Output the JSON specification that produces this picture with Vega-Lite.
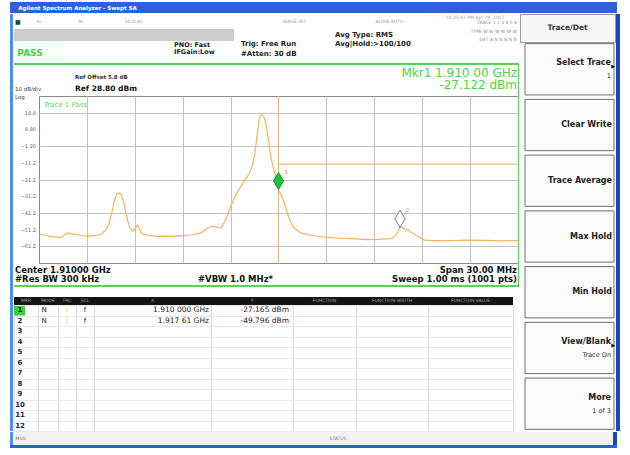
{
"$schema": "https://vega.github.io/schema/vega-lite/v6.json",
"background": "#ffffff",
"padding": {"left": 10, "top": 2, "right": 0, "bottom": 0},
"spacing": 0,
"config": {"view": {"stroke": null}, "concat": {"spacing": 0}, "text": {"font": "DejaVu Sans"}, "axis": {"labelFont": "DejaVu Sans"}},
"datasets": {
"trace": [
{"f":1.89500,"amp":-54.6},{"f":1.89520,"amp":-54.0},{"f":1.89545,"amp":-54.9},{"f":1.89575,"amp":-55.2},{"f":1.89605,"amp":-55.5},{"f":1.89638,"amp":-55.8},{"f":1.89660,"amp":-54.5},{"f":1.89680,"amp":-53.2},{"f":1.89710,"amp":-53.9},{"f":1.89742,"amp":-54.2},{"f":1.89775,"amp":-54.9},{"f":1.89805,"amp":-55.2},{"f":1.89835,"amp":-54.8},{"f":1.89868,"amp":-54.6},{"f":1.89890,"amp":-53.8},{"f":1.89909,"amp":-52.2},{"f":1.89925,"amp":-50.4},{"f":1.89940,"amp":-47.2},{"f":1.89955,"amp":-41.5},{"f":1.89972,"amp":-34.2},{"f":1.89985,"amp":-30.3},{"f":1.89995,"amp":-29.2},{"f":1.90005,"amp":-29.4},{"f":1.90014,"amp":-30.2},{"f":1.90025,"amp":-33.0},{"f":1.90034,"amp":-36.2},{"f":1.90045,"amp":-41.5},{"f":1.90056,"amp":-46.2},{"f":1.90070,"amp":-50.0},{"f":1.90087,"amp":-52.2},{"f":1.90103,"amp":-50.6},{"f":1.90118,"amp":-48.2},{"f":1.90128,"amp":-50.5},{"f":1.90139,"amp":-53.2},{"f":1.90160,"amp":-54.2},{"f":1.90181,"amp":-54.6},{"f":1.90215,"amp":-55.0},{"f":1.90250,"amp":-55.4},{"f":1.90280,"amp":-55.0},{"f":1.90306,"amp":-55.2},{"f":1.90340,"amp":-55.3},{"f":1.90370,"amp":-54.8},{"f":1.90400,"amp":-55.0},{"f":1.90431,"amp":-54.6},{"f":1.90460,"amp":-54.3},{"f":1.90490,"amp":-53.8},{"f":1.90515,"amp":-53.2},{"f":1.90535,"amp":-51.8},{"f":1.90557,"amp":-50.2},{"f":1.90578,"amp":-49.5},{"f":1.90598,"amp":-49.2},{"f":1.90620,"amp":-50.0},{"f":1.90640,"amp":-50.2},{"f":1.90660,"amp":-47.0},{"f":1.90682,"amp":-42.2},{"f":1.90703,"amp":-37.0},{"f":1.90723,"amp":-32.2},{"f":1.90745,"amp":-28.4},{"f":1.90765,"amp":-25.2},{"f":1.90786,"amp":-22.0},{"f":1.90807,"amp":-19.2},{"f":1.90823,"amp":-16.2},{"f":1.90838,"amp":-12.2},{"f":1.90849,"amp":-7.0},{"f":1.90859,"amp":-0.2},{"f":1.90870,"amp":8.0},{"f":1.90880,"amp":15.8},{"f":1.90888,"amp":17.2},{"f":1.90896,"amp":17.5},{"f":1.90904,"amp":16.8},{"f":1.90911,"amp":15.8},{"f":1.90922,"amp":11.5},{"f":1.90932,"amp":5.8},{"f":1.90943,"amp":-1.5},{"f":1.90953,"amp":-8.2},{"f":1.90966,"amp":-13.5},{"f":1.90980,"amp":-18.5},{"f":1.91000,"amp":-27.1},{"f":1.91015,"amp":-30.2},{"f":1.91036,"amp":-35.0},{"f":1.91058,"amp":-42.2},{"f":1.91075,"amp":-46.5},{"f":1.91089,"amp":-49.2},{"f":1.91115,"amp":-51.6},{"f":1.91141,"amp":-53.2},{"f":1.91190,"amp":-54.4},{"f":1.91245,"amp":-55.2},{"f":1.91300,"amp":-55.8},{"f":1.91349,"amp":-56.2},{"f":1.91400,"amp":-56.4},{"f":1.91454,"amp":-56.6},{"f":1.91505,"amp":-56.9},{"f":1.91559,"amp":-57.2},{"f":1.91630,"amp":-57.0},{"f":1.91705,"amp":-56.6},{"f":1.91730,"amp":-55.0},{"f":1.91747,"amp":-52.8},{"f":1.91761,"amp":-49.8},{"f":1.91780,"amp":-50.2},{"f":1.91795,"amp":-51.0},{"f":1.91809,"amp":-51.2},{"f":1.91825,"amp":-52.5},{"f":1.91840,"amp":-53.2},{"f":1.91872,"amp":-55.2},{"f":1.91913,"amp":-57.5},{"f":1.91980,"amp":-57.8},{"f":1.92080,"amp":-57.8},{"f":1.92180,"amp":-57.5},{"f":1.92289,"amp":-57.6},{"f":1.92400,"amp":-57.9},{"f":1.92500,"amp":-57.8}
],
"markers": [
{"id":1,"f":1.91000,"amp":-27.122,"readout":"Mkr1 1.910 00 GHz\n-27.122 dBm"},
{"id":2,"f":1.91761,"amp":-49.796}
],
"limits": [{"f":1.910,"f2":1.925,"lvl":-12.0}],
"levels": [{"lvl":18.8},{"lvl":8.8},{"lvl":-1.2},{"lvl":-11.2},{"lvl":-21.2},{"lvl":-31.2},{"lvl":-41.2},{"lvl":-51.2},{"lvl":-61.2}],
"table": [
{"n":1,"mode":"N","trc":"1","scl":"f","x":"1.910 000 GHz","y":"-27.165 dBm"},
{"n":2,"mode":"N","trc":"1","scl":"f","x":"1.917 61 GHz","y":"-49.796 dBm"},
{"n":3},{"n":4},{"n":5},{"n":6},{"n":7},{"n":8},{"n":9},{"n":10},{"n":11},{"n":12}
],
"keys": [
{"key":"Select Trace","sub":"1","arrow":true},
{"key":"Clear Write"},
{"key":"Trace Average"},
{"key":"Max Hold"},
{"key":"Min Hold"},
{"key":"View/Blank","sub":"Trace On","arrow":true},
{"key":"More","sub":"1 of 3"}
]
},
"vconcat": [
{"hconcat": [
 {"width":135,"height":11,"view":{"fill":"#2c62d6"},"data":{"values":[{"t":"Agilent Spectrum Analyzer - Swept SA"}]},"mark":{"type":"text","color":"#ffffff","fontSize":5.5,"fontWeight":"bold"},"encoding":{"text":{"field":"t"}}},
 {"width":472,"height":11,"view":{"fill":"#2c62d6"},"data":{"values":[]},"mark":"text","encoding":{}}
],"spacing":0,"bounds":"flush"},
{"hconcat": [
 {"width":3,"height":417,"view":{"fill":"#4f8fe8"},"data":{"values":[]},"mark":"text","encoding":{}},
 {"vconcat": [
  {"concat": [
   {"width":50,"height":15,"layer":[
     {"data":{"values":[{"t":"■"}]},"mark":{"type":"text","fontSize":6,"color":"#0c5e0c","align":"left","dx":1},"encoding":{"x":{"value":0},"text":{"field":"t"}}},
     {"data":{"values":[{"t":"RL"}]},"mark":{"type":"text","fontSize":4.5,"color":"#9c9c9c"},"encoding":{"text":{"field":"t"}}}]},
   {"width":100,"height":15,"layer":[
     {"data":{"values":[{"t":"RF"}]},"mark":{"type":"text","fontSize":4.5,"color":"#9c9c9c","dx":-33},"encoding":{"text":{"field":"t"}}},
     {"data":{"values":[{"t":"50 Ω  AC"}]},"mark":{"type":"text","fontSize":4.5,"color":"#9c9c9c","dx":20},"encoding":{"text":{"field":"t"}}}]},
   {"width":70,"height":15,"data":{"values":[]},"mark":"text","encoding":{}},
   {"width":70,"height":15,"data":{"values":[{"t":"SENSE:INT"}]},"mark":{"type":"text","fontSize":4.5,"color":"#9c9c9c","dx":25},"encoding":{"text":{"field":"t"}}},
   {"width":27,"height":15,"data":{"values":[]},"mark":"text","encoding":{}},
   {"width":75,"height":15,"data":{"values":[{"t":"ALIGN AUTO"}]},"mark":{"type":"text","fontSize":4.5,"color":"#9c9c9c","dx":21},"encoding":{"text":{"field":"t"}}},
   {"width":45,"height":15,"data":{"values":[]},"mark":"text","encoding":{}},
   {"width":68,"height":15,"data":{"values":[{"t":"10:35:47 PM Apr 29, 2017"}]},"mark":{"type":"text","fontSize":4.5,"color":"#9c9c9c","dx":-10,"dy":-4},"encoding":{"text":{"field":"t"}}},
   {"width":50,"height":12,"view":{"fill":"#cdcdcd"},"data":{"values":[]},"mark":"text","encoding":{}},
   {"width":100,"height":12,"view":{"fill":"#cdcdcd"},"data":{"values":[]},"mark":"text","encoding":{}},
   {"width":70,"height":12,"view":{"fill":"#cdcdcd"},"data":{"values":[]},"mark":"text","encoding":{}},
   {"width":70,"height":12,"data":{"values":[]},"mark":"text","encoding":{}},
   {"width":27,"height":12,"data":{"values":[]},"mark":"text","encoding":{}},
   {"width":75,"height":12,"data":{"values":[{"t":"Avg Type: RMS\nAvg|Hold:>100/100"}]},"mark":{"type":"text","fontSize":7,"fontWeight":"bold","color":"#222222","align":"left","lineBreak":"\n","lineHeight":9,"dx":4,"dy":-0.5},"encoding":{"x":{"value":0},"text":{"field":"t"}}},
   {"width":45,"height":12,"data":{"values":[]},"mark":"text","encoding":{}},
   {"width":68,"height":12,"data":{"values":[{"t":"TRACE 1 2 3 4 5 6\nTYPE W W W W W W\nDET A N N N N N"}]},"mark":{"type":"text","fontSize":4.5,"color":"#8a8a8a","align":"right","lineBreak":"\n","lineHeight":8.5,"dx":-2,"dy":-12},"encoding":{"x":{"value":"width"},"text":{"field":"t"}}},
   {"width":50,"height":22,"view":{"fill":"#f6fff6"},"data":{"values":[{"t":"PASS"}]},"mark":{"type":"text","fontSize":9,"fontWeight":"bold","color":"#45d345","dx":-9,"dy":1},"encoding":{"text":{"field":"t"}}},
   {"width":100,"height":22,"data":{"values":[]},"mark":"text","encoding":{}},
   {"width":70,"height":22,"data":{"values":[{"t":"PNO: Fast\nIFGain:Low"}]},"mark":{"type":"text","fontSize":6.5,"fontWeight":"bold","color":"#222222","align":"left","lineBreak":"\n","lineHeight":7.5,"dx":10,"dy":-7.5},"encoding":{"x":{"value":0},"text":{"field":"t"}}},
   {"width":70,"height":22,"data":{"values":[{"t":"Trig: Free Run\n#Atten: 30 dB"}]},"mark":{"type":"text","fontSize":7,"fontWeight":"bold","color":"#222222","align":"left","lineBreak":"\n","lineHeight":9.5,"dx":7,"dy":-8},"encoding":{"x":{"value":0},"text":{"field":"t"}}},
   {"width":27,"height":22,"data":{"values":[]},"mark":"text","encoding":{}},
   {"width":75,"height":22,"data":{"values":[]},"mark":"text","encoding":{}},
   {"width":45,"height":22,"data":{"values":[]},"mark":"text","encoding":{}},
   {"width":68,"height":22,"data":{"values":[]},"mark":"text","encoding":{}}
  ],"columns":8,"spacing":0,"bounds":"flush"},
  {"width":505,"height":2,"view":{"fill":"#5ad25a"},"data":{"values":[]},"mark":"text","encoding":{}},
  {"concat": [
   {"width":25,"height":31,"data":{"values":[]},"mark":"text","encoding":{}},
   {"width":479,"height":31,"data":{"values":[]},"mark":"text","encoding":{}},
   {"width":1,"height":31,"view":{"fill":"#5ad25a"},"data":{"values":[]},"mark":"text","encoding":{}},
   {"width":25,"height":167,"data":{"values":[]},"mark":"text","encoding":{}},
   {"width":479,"height":167,
     "view":{"fill":"#ffffff","stroke":"#8a8a8a","strokeWidth":1},
     "layer":[
      {"data":{"name":"limits"},"mark":{"type":"rule","color":"#dab883","strokeWidth":1},
       "encoding":{"x":{"field":"f","type":"quantitative","scale":{"domain":[1.895,1.925],"nice":false,"zero":false}}}},
      {"data":{"name":"limits"},"mark":{"type":"rule","color":"#f0a850","strokeWidth":1},
       "encoding":{"x":{"field":"f","type":"quantitative","scale":{"domain":[1.895,1.925],"nice":false,"zero":false}},"x2":{"field":"f2"},
        "y":{"field":"lvl","type":"quantitative","scale":{"domain":[-71.2,28.8],"nice":false,"zero":false}}}},
      {"data":{"name":"trace"},"mark":{"type":"line","color":"#f2b45e","strokeWidth":1.2,"clip":true},
       "encoding":{
        "x":{"field":"f","type":"quantitative","scale":{"domain":[1.895,1.925],"nice":false,"zero":false},
             "axis":{"values":[1.898,1.901,1.904,1.907,1.91,1.913,1.916,1.919,1.922],"labels":false,"ticks":false,"domain":false,"title":null,"grid":true,"gridColor":"#c2c2c2","gridWidth":1}},
        "y":{"field":"amp","type":"quantitative","scale":{"domain":[-71.2,28.8],"nice":false,"zero":false},
             "axis":{"values":[18.8,8.8,-1.2,-11.2,-21.2,-31.2,-41.2,-51.2,-61.2],"labels":false,"ticks":false,"domain":false,"title":null,"grid":true,"gridColor":"#c2c2c2","gridWidth":1}}}},
      {"data":{"name":"levels"},"mark":{"type":"text","align":"right","baseline":"middle","fontSize":5,"color":"#666666","dx":-3},
       "encoding":{"x":{"value":0},"y":{"field":"lvl","type":"quantitative"},"text":{"field":"lvl","type":"quantitative","format":".3r"}}},
      {"data":{"name":"markers"},"mark":{"type":"point","filled":true,"shape":"M0,-2L0.6,-1L0,0L-0.6,-1Z","size":289,"strokeWidth":1,"opacity":1},
       "encoding":{"x":{"field":"f","type":"quantitative"},"y":{"field":"amp","type":"quantitative"},
        "fill":{"field":"id","type":"nominal","scale":{"domain":[1,2],"range":["#1ec23c","#ffffff"]},"legend":null},
        "stroke":{"field":"id","type":"nominal","scale":{"domain":[1,2],"range":["#13992b","#7c7c98"]},"legend":null}}},
      {"data":{"name":"markers"},"mark":{"type":"text","fontSize":5.5,"align":"left","dx":6,"dy":-17},
       "encoding":{"x":{"field":"f","type":"quantitative"},"y":{"field":"amp","type":"quantitative"},"text":{"field":"id","type":"nominal"},
        "color":{"field":"id","type":"nominal","scale":{"domain":[1,2],"range":["#e8706a","#e9a74a"]},"legend":null}}},
      {"data":{"values":[{"t":"Trace 1 Pass"}]},"mark":{"type":"text","fontSize":7,"color":"#55dd55","align":"left","baseline":"top","dx":5,"dy":5},
       "encoding":{"x":{"value":0},"y":{"value":0},"text":{"field":"t"}}},
      {"data":{"values":[{"t":"10 dB/div\nLog"}]},"mark":{"type":"text","fontSize":5.5,"color":"#444444","align":"left","baseline":"middle","lineBreak":"\n","lineHeight":8.5,"dx":-24,"dy":-7.5},
       "encoding":{"x":{"value":0},"y":{"value":0},"text":{"field":"t"}}},
      {"data":{"values":[{"t":"Ref Offset 5.8 dB"}]},"mark":{"type":"text","fontSize":5.5,"fontWeight":"bold","color":"#333333","align":"left","baseline":"bottom","dx":36,"dy":-16},
       "encoding":{"x":{"value":0},"y":{"value":0},"text":{"field":"t"}}},
      {"data":{"values":[{"t":"Ref 28.80 dBm"}]},"mark":{"type":"text","fontSize":7.5,"fontWeight":"bold","color":"#111111","align":"left","baseline":"bottom","dx":36,"dy":-3},
       "encoding":{"x":{"value":0},"y":{"value":0},"text":{"field":"t"}}},
      {"data":{"name":"markers"},"transform":[{"filter":"datum.id == 1"}],"mark":{"type":"text","fontSize":12,"color":"#3fdc3f","align":"right","baseline":"middle","lineBreak":"\n","lineHeight":12.5,"dx":-1,"dy":-23.5},
       "encoding":{"x":{"value":"width"},"y":{"value":0},"text":{"field":"readout"}}},
      {"data":{"values":[{"t":"Center 1.91000 GHz\n#Res BW 300 kHz"}]},"mark":{"type":"text","fontSize":8.5,"fontWeight":"bold","color":"#111111","align":"left","baseline":"top","lineBreak":"\n","lineHeight":9,"dx":-24,"dy":3},
       "encoding":{"x":{"value":0},"y":{"value":"height"},"text":{"field":"t"}}},
      {"data":{"values":[{"t":"#VBW 1.0 MHz*"}]},"mark":{"type":"text","fontSize":8.5,"fontWeight":"bold","color":"#111111","align":"left","baseline":"top","dx":159,"dy":12},
       "encoding":{"x":{"value":0},"y":{"value":"height"},"text":{"field":"t"}}},
      {"data":{"values":[{"t":"Span 30.00 MHz\nSweep  1.00 ms (1001 pts)"}]},"mark":{"type":"text","fontSize":8.5,"fontWeight":"bold","color":"#111111","align":"right","baseline":"top","lineBreak":"\n","lineHeight":9,"dx":-1,"dy":3},
       "encoding":{"x":{"value":"width"},"y":{"value":"height"},"text":{"field":"t"}}}
     ]},
   {"width":1,"height":167,"view":{"fill":"#5ad25a"},"data":{"values":[]},"mark":"text","encoding":{}},
   {"width":25,"height":22,"data":{"values":[]},"mark":"text","encoding":{}},
   {"width":479,"height":22,"data":{"values":[]},"mark":"text","encoding":{}},
   {"width":1,"height":22,"view":{"fill":"#5ad25a"},"data":{"values":[]},"mark":"text","encoding":{}}
  ],"columns":3,"spacing":0,"bounds":"flush"},
  {"width":505,"height":2,"view":{"fill":"#5ad25a"},"data":{"values":[]},"mark":"text","encoding":{}},
  {"width":505,"height":10,"data":{"values":[]},"mark":"text","encoding":{}},
  {"concat": [
    {"width":24,"height":8,"view":{"fill":"#151515"},"data":{"values":[{"t":"MKR"}]},"mark":{"type":"text","fontSize":4.5,"color":"#a0a0a0"},"encoding":{"text":{"field":"t"}}},
    {"width":20,"height":8,"view":{"fill":"#151515"},"data":{"values":[{"t":"MODE"}]},"mark":{"type":"text","fontSize":4.5,"color":"#a0a0a0"},"encoding":{"text":{"field":"t"}}},
    {"width":18,"height":8,"view":{"fill":"#151515"},"data":{"values":[{"t":"TRC"}]},"mark":{"type":"text","fontSize":4.5,"color":"#a0a0a0"},"encoding":{"text":{"field":"t"}}},
    {"width":18,"height":8,"view":{"fill":"#151515"},"data":{"values":[{"t":"SCL"}]},"mark":{"type":"text","fontSize":4.5,"color":"#a0a0a0"},"encoding":{"text":{"field":"t"}}},
    {"width":117,"height":8,"view":{"fill":"#151515"},"data":{"values":[{"t":"X"}]},"mark":{"type":"text","fontSize":4.5,"color":"#a0a0a0"},"encoding":{"text":{"field":"t"}}},
    {"width":82,"height":8,"view":{"fill":"#151515"},"data":{"values":[{"t":"Y"}]},"mark":{"type":"text","fontSize":4.5,"color":"#a0a0a0"},"encoding":{"text":{"field":"t"}}},
    {"width":63,"height":8,"view":{"fill":"#151515"},"data":{"values":[{"t":"FUNCTION"}]},"mark":{"type":"text","fontSize":4.5,"color":"#a0a0a0"},"encoding":{"text":{"field":"t"}}},
    {"width":72,"height":8,"view":{"fill":"#151515"},"data":{"values":[{"t":"FUNCTION WIDTH"}]},"mark":{"type":"text","fontSize":4.5,"color":"#a0a0a0"},"encoding":{"text":{"field":"t"}}},
    {"width":85,"height":8,"view":{"fill":"#151515"},"data":{"values":[{"t":"FUNCTION VALUE"}]},"mark":{"type":"text","fontSize":4.5,"color":"#a0a0a0"},"encoding":{"text":{"field":"t"}}},
    {"width":6,"height":8,"data":{"values":[]},"mark":"text","encoding":{}},
    {"width":24,"height":126,"view":{"fill":"#ffffff","stroke":"#d9d9d9"},"data":{"name":"table"},
     "layer":[
      {"transform":[{"filter":"datum.n == 1"}],"mark":{"type":"rect","color":"#3ccc3c","x2Offset":-13},
       "encoding":{"x":{"value":0},"x2":{"value":"width"},"y":{"field":"n","type":"ordinal","scale":{"type":"band","domain":[1,2,3,4,5,6,7,8,9,10,11,12],"paddingInner":0,"paddingOuter":0},"axis":{"grid":true,"tickBand":"extent","gridColor":"#e8e8e8","labels":false,"ticks":false,"domain":false,"title":null}}}},
      {"mark":{"type":"text","fontSize":7,"fontWeight":"bold","color":"#1c2555","dx":-6},
       "encoding":{"y":{"field":"n","type":"ordinal"},"text":{"field":"n","type":"nominal"}}}
     ]},
    {"width":20,"height":126,"view":{"fill":"#ffffff","stroke":"#d9d9d9"},"data":{"name":"table"},
     "layer":[
      {"mark":{"type":"point","opacity":0},"encoding":{"y":{"field":"n","type":"ordinal","scale":{"type":"band","domain":[1,2,3,4,5,6,7,8,9,10,11,12],"paddingInner":0,"paddingOuter":0},"axis":{"grid":true,"tickBand":"extent","gridColor":"#e8e8e8","labels":false,"ticks":false,"domain":false,"title":null}}}},
      {"transform":[{"filter":"isValid(datum.mode)"}],"mark":{"type":"text","fontSize":7,"color":"#222222","dx":-4},"encoding":{"y":{"field":"n","type":"ordinal"},"text":{"field":"mode"}}}
     ]},
    {"width":18,"height":126,"view":{"fill":"#ffffff","stroke":"#d9d9d9"},"data":{"name":"table"},
     "layer":[
      {"mark":{"type":"point","opacity":0},"encoding":{"y":{"field":"n","type":"ordinal","scale":{"type":"band","domain":[1,2,3,4,5,6,7,8,9,10,11,12],"paddingInner":0,"paddingOuter":0},"axis":{"grid":true,"tickBand":"extent","gridColor":"#e8e8e8","labels":false,"ticks":false,"domain":false,"title":null}}}},
      {"transform":[{"filter":"isValid(datum.trc)"}],"mark":{"type":"text","fontSize":7,"color":"#e6dc96"},"encoding":{"y":{"field":"n","type":"ordinal"},"text":{"field":"trc"}}}
     ]},
    {"width":18,"height":126,"view":{"fill":"#ffffff","stroke":"#d9d9d9"},"data":{"name":"table"},
     "layer":[
      {"mark":{"type":"point","opacity":0},"encoding":{"y":{"field":"n","type":"ordinal","scale":{"type":"band","domain":[1,2,3,4,5,6,7,8,9,10,11,12],"paddingInner":0,"paddingOuter":0},"axis":{"grid":true,"tickBand":"extent","gridColor":"#e8e8e8","labels":false,"ticks":false,"domain":false,"title":null}}}},
      {"transform":[{"filter":"isValid(datum.scl)"}],"mark":{"type":"text","fontSize":7,"color":"#222222"},"encoding":{"y":{"field":"n","type":"ordinal"},"text":{"field":"scl"}}}
     ]},
    {"width":117,"height":126,"view":{"fill":"#ffffff","stroke":"#d9d9d9"},"data":{"name":"table"},
     "layer":[
      {"mark":{"type":"point","opacity":0},"encoding":{"y":{"field":"n","type":"ordinal","scale":{"type":"band","domain":[1,2,3,4,5,6,7,8,9,10,11,12],"paddingInner":0,"paddingOuter":0},"axis":{"grid":true,"tickBand":"extent","gridColor":"#e8e8e8","labels":false,"ticks":false,"domain":false,"title":null}}}},
      {"transform":[{"filter":"isValid(datum.x)"}],"mark":{"type":"text","fontSize":7.5,"color":"#222222","align":"right","dx":-2},"encoding":{"x":{"value":"width"},"y":{"field":"n","type":"ordinal"},"text":{"field":"x"}}}
     ]},
    {"width":82,"height":126,"view":{"fill":"#ffffff","stroke":"#d9d9d9"},"data":{"name":"table"},
     "layer":[
      {"mark":{"type":"point","opacity":0},"encoding":{"y":{"field":"n","type":"ordinal","scale":{"type":"band","domain":[1,2,3,4,5,6,7,8,9,10,11,12],"paddingInner":0,"paddingOuter":0},"axis":{"grid":true,"tickBand":"extent","gridColor":"#e8e8e8","labels":false,"ticks":false,"domain":false,"title":null}}}},
      {"transform":[{"filter":"isValid(datum.y)"}],"mark":{"type":"text","fontSize":7.5,"color":"#222222","align":"right","dx":-4},"encoding":{"x":{"value":"width"},"y":{"field":"n","type":"ordinal"},"text":{"field":"y"}}}
     ]},
    {"width":63,"height":126,"view":{"fill":"#ffffff","stroke":"#d9d9d9"},"data":{"name":"table"},
     "mark":{"type":"point","opacity":0},"encoding":{"y":{"field":"n","type":"ordinal","scale":{"type":"band","domain":[1,2,3,4,5,6,7,8,9,10,11,12],"paddingInner":0,"paddingOuter":0},"axis":{"grid":true,"tickBand":"extent","gridColor":"#e8e8e8","labels":false,"ticks":false,"domain":false,"title":null}}}},
    {"width":72,"height":126,"view":{"fill":"#ffffff","stroke":"#d9d9d9"},"data":{"name":"table"},
     "mark":{"type":"point","opacity":0},"encoding":{"y":{"field":"n","type":"ordinal","scale":{"type":"band","domain":[1,2,3,4,5,6,7,8,9,10,11,12],"paddingInner":0,"paddingOuter":0},"axis":{"grid":true,"tickBand":"extent","gridColor":"#e8e8e8","labels":false,"ticks":false,"domain":false,"title":null}}}},
    {"width":85,"height":126,"view":{"fill":"#ffffff","stroke":"#d9d9d9"},"data":{"name":"table"},
     "mark":{"type":"point","opacity":0},"encoding":{"y":{"field":"n","type":"ordinal","scale":{"type":"band","domain":[1,2,3,4,5,6,7,8,9,10,11,12],"paddingInner":0,"paddingOuter":0},"axis":{"grid":true,"tickBand":"extent","gridColor":"#e8e8e8","labels":false,"ticks":false,"domain":false,"title":null}}}},
    {"width":6,"height":126,"data":{"values":[]},"mark":"text","encoding":{}}
  ],"columns":10,"spacing":0,"bounds":"flush"}
 ],"spacing":0},
 {"vconcat": [
  {"width":95,"height":28,"view":{"fill":"#f6f6f6","stroke":"#9a9a9a"},"data":{"values":[{"t":"Trace/Det"}]},"mark":{"type":"text","fontSize":7.5,"fontWeight":"bold","color":"#333333"},"encoding":{"text":{"field":"t"}}},
  {"width":95,"height":389,"data":{"name":"keys"},
   "encoding":{"y":{"field":"key","type":"nominal","sort":null,"scale":{"paddingInner":0.08,"paddingOuter":0.03},"axis":null}},
   "layer":[
    {"mark":{"type":"rect","fill":"#fbfbfb","stroke":"#6e6e6e","strokeWidth":1,"xOffset":5,"x2Offset":-1},"encoding":{"x":{"value":0},"x2":{"value":"width"}}},
    {"transform":[{"filter":"!isValid(datum.sub)"}],"mark":{"type":"text","align":"right","fontWeight":"bold","fontSize":8,"color":"#222222","dx":-3},"encoding":{"x":{"value":"width"},"text":{"field":"key"}}},
    {"transform":[{"filter":"isValid(datum.sub)"}],"mark":{"type":"text","align":"right","fontWeight":"bold","fontSize":8,"color":"#222222","dx":-4,"dy":-6},"encoding":{"x":{"value":"width"},"text":{"field":"key"}}},
    {"transform":[{"filter":"isValid(datum.sub)"}],"mark":{"type":"text","align":"right","fontSize":6.5,"color":"#333333","dx":-4,"dy":7},"encoding":{"x":{"value":"width"},"text":{"field":"sub"}}},
    {"transform":[{"filter":"datum.arrow == true"}],"mark":{"type":"text","align":"right","fontSize":5,"color":"#000000","dx":0,"dy":-3},"encoding":{"x":{"value":"width"},"text":{"value":"▶"}}}
   ]}
 ],"spacing":0,"bounds":"flush"},
 {"width":4,"height":417,"view":{"fill":"#1a48b8"},"data":{"values":[]},"mark":"text","encoding":{}}
],"spacing":0},
{"hconcat": [
 {"width":3,"height":13,"view":{"fill":"#4f8fe8"},"data":{"values":[]},"mark":"text","encoding":{}},
 {"width":15,"height":13,"view":{"fill":"#f2f2f2"},"data":{"values":[{"t":"MSG"}]},"mark":{"type":"text","fontSize":4.5,"color":"#777777"},"encoding":{"text":{"field":"t"}}},
 {"width":290,"height":13,"view":{"fill":"#f2f2f2"},"data":{"values":[]},"mark":"text","encoding":{}},
 {"width":40,"height":13,"view":{"fill":"#f2f2f2"},"data":{"values":[{"t":"STATUS"}]},"mark":{"type":"text","fontSize":4.5,"color":"#777777"},"encoding":{"text":{"field":"t"}}},
 {"width":255,"height":13,"view":{"fill":"#f2f2f2"},"data":{"values":[]},"mark":"text","encoding":{}},
 {"width":4,"height":13,"view":{"fill":"#1a48b8"},"data":{"values":[]},"mark":"text","encoding":{}}
],"spacing":0,"bounds":"flush"},
{"width":607,"height":3,"view":{"fill":"#2c62d6"},"data":{"values":[]},"mark":"text","encoding":{}}
]
}
